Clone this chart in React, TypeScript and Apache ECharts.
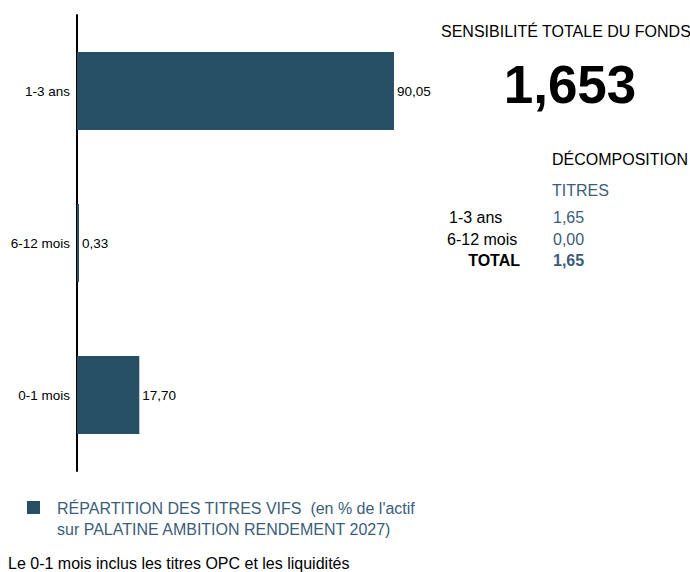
import React, { useEffect, useRef } from "react";
import * as echarts from "echarts";

const categories = ["0-1 mois", "6-12 mois", "1-3 ans"];
const values = [17.7, 0.33, 90.05];
const seriesName = "RÉPARTITION DES TITRES VIFS";
const legendLines = ["RÉPARTITION DES TITRES VIFS  (en % de l'actif", "sur PALATINE AMBITION RENDEMENT 2027)"];
const totalTitle = "SENSIBILITÉ TOTALE DU FONDS";
const totalValue = "1,653";
const decompTitle = "DÉCOMPOSITION";
const decompHeader = "TITRES";
const decompLabels = ["1-3 ans", "6-12 mois"];
const decompValues = ["1,65", "0,00"];
const decompTotalLabel = "TOTAL";
const decompTotalValue = "1,65";
const footnote = "Le 0-1 mois inclus les titres OPC et les liquidités";

const BAR = "#264f66";
const BLUE_TEXT = "#3b5d7a";
const FONT = "'Liberation Sans', Arial, sans-serif";

export default function App() {
  const ref = useRef<HTMLDivElement>(null);
  useEffect(() => {
    if (!ref.current) return;
    const chart = echarts.init(ref.current, undefined, { renderer: "svg" });
    const fmt = (v: number) => v.toFixed(2).replace(".", ",");
    const rowY = [217, 239];
    const rowX = [449, 447];
    chart.setOption({
      animation: false,
      textStyle: { fontFamily: FONT },
      grid: { left: 77, right: 261, top: 15, bottom: 101, containLabel: false },
      xAxis: { type: "value", min: 0, max: 100, show: false },
      yAxis: {
        type: "category",
        data: categories,
        axisLine: { show: true, lineStyle: { color: "#000", width: 2 } },
        axisTick: { show: false },
        axisLabel: { color: "#000", fontSize: 13.5, margin: 7, fontFamily: FONT },
        splitLine: { show: false },
      },
      series: [
        {
          name: seriesName,
          type: "bar",
          data: values,
          barWidth: 78,
          barMinHeight: 2,
          itemStyle: { color: BAR },
          label: {
            show: true,
            position: "right",
            distance: 3,
            color: "#000",
            fontSize: 13.5,
            fontFamily: FONT,
            formatter: (p: any) => fmt(p.value),
          },
        },
      ],
      graphic: [
        { type: "text", left: 441, top: 23, style: { text: totalTitle, fontSize: 16, fill: "#000", fontFamily: FONT } },
        { type: "text", x: 570, y: 84, style: { text: totalValue, fontSize: 53, fontWeight: "bold", fill: "#000", fontFamily: FONT, align: "center", verticalAlign: "middle" } },
        { type: "text", x: 552, y: 159, style: { text: decompTitle, fontSize: 16, fill: "#000", fontFamily: FONT, verticalAlign: "middle" } },
        { type: "text", x: 552, y: 190, style: { text: decompHeader, fontSize: 16, fill: BLUE_TEXT, fontFamily: FONT, verticalAlign: "middle" } },
        ...decompLabels.map((t, i) => ({ type: "text", x: rowX[i], y: rowY[i], style: { text: t, fontSize: 16, fill: "#000", fontFamily: FONT, verticalAlign: "middle" } })),
        ...decompValues.map((t, i) => ({ type: "text", x: 553, y: rowY[i], style: { text: t, fontSize: 16, fill: BLUE_TEXT, fontFamily: FONT, verticalAlign: "middle" } })),
        { type: "text", x: 520, y: 260, style: { text: decompTotalLabel, fontSize: 16, fontWeight: "bold", fill: "#000", fontFamily: FONT, align: "right", verticalAlign: "middle" } },
        { type: "text", x: 553, y: 260, style: { text: decompTotalValue, fontSize: 16, fontWeight: "bold", fill: BLUE_TEXT, fontFamily: FONT, verticalAlign: "middle" } },
        { type: "rect", shape: { x: 27, y: 501, width: 13, height: 13 }, style: { fill: BAR } },
        { type: "text", x: 57, y: 508, style: { text: legendLines[0], fontSize: 16, fill: BLUE_TEXT, fontFamily: FONT, verticalAlign: "middle" } },
        { type: "text", x: 57, y: 529, style: { text: legendLines[1], fontSize: 16, fill: BLUE_TEXT, fontFamily: FONT, verticalAlign: "middle" } },
        { type: "text", x: 8, y: 563, style: { text: footnote, fontSize: 16, fill: "#000", fontFamily: FONT, verticalAlign: "middle" } },
      ],
    });
    return () => chart.dispose();
  }, []);
  return <div ref={ref} style={{ position: "fixed", left: 0, top: 0, width: 690, height: 572, background: "#fff" }} />;
}
